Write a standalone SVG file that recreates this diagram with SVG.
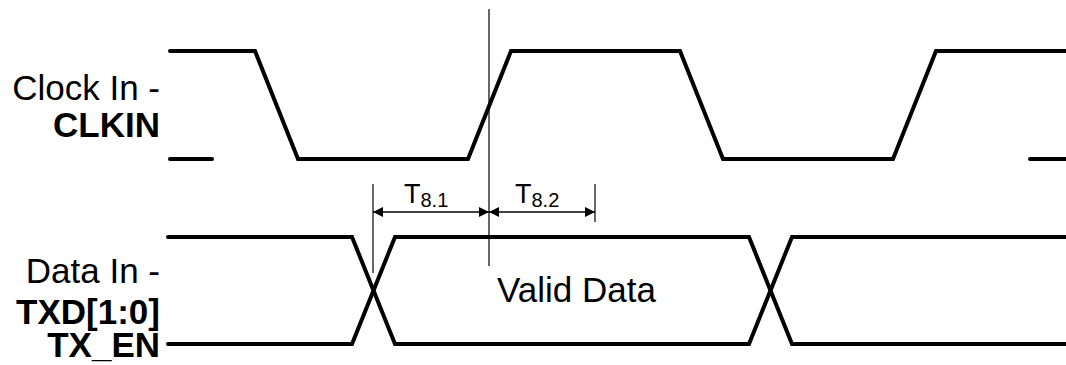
<svg xmlns="http://www.w3.org/2000/svg" width="1066" height="365" viewBox="0 0 1066 365">
<defs>
<style>
.wave{fill:none;stroke:#000;stroke-width:4;stroke-linejoin:miter;stroke-linecap:round}
.thin{fill:none;stroke:#000;stroke-width:1.2}
.dim{fill:none;stroke:#000;stroke-width:1.5}
.lbl{font-family:"Liberation Sans",Arial,sans-serif;font-size:35px;fill:#000}
.b{font-weight:bold}
.t{font-family:"Liberation Sans",Arial,sans-serif;font-size:27px;fill:#000}
.s{font-size:20px}
</style>
<marker id="ah" viewBox="0 0 10 10" refX="10" refY="5" markerWidth="11" markerHeight="10" markerUnits="userSpaceOnUse" orient="auto-start-reverse">
<path d="M0,0 L10,5 L0,10 Z" fill="#000"/>
</marker>
</defs>
<g id="clock-label">
<text class="lbl" x="160" y="100" text-anchor="end">Clock In -</text>
<text class="lbl b" x="160" y="137" text-anchor="end">CLKIN</text>
</g>
<g id="data-label">
<text class="lbl" x="160" y="283" text-anchor="end">Data In -</text>
<text class="lbl b" x="160" y="324" text-anchor="end">TXD[1:0]</text>
<text class="lbl b" x="160" y="357" text-anchor="end">TX_EN</text>
</g>
<g id="clock-wave">
<polyline class="wave" points="170,51 255,51 298,159 468,159 511,51 680,51 723,159 893,159 936,51 1066,51"/>
<line class="wave" x1="170" y1="159" x2="212" y2="159"/>
<line class="wave" x1="1030" y1="159" x2="1066" y2="159"/>
</g>
<g id="data-wave">
<polyline class="wave" points="168,237 352,237 395,344 749,344 792,237 1066,237"/>
<polyline class="wave" points="168,344 352,344 395,237 749,237 792,344 1066,344"/>
</g>
<g id="valid-data">
<text class="lbl" x="497" y="302">Valid Data</text>
</g>
<g id="connectors">
<line class="thin" x1="489" y1="9" x2="489" y2="266"/>
<line class="thin" x1="373" y1="184" x2="373" y2="273"/>
<line class="thin" x1="595" y1="184" x2="595" y2="222"/>
<line class="dim" x1="373" y1="212" x2="489" y2="212" marker-start="url(#ah)" marker-end="url(#ah)"/>
<line class="dim" x1="489" y1="212" x2="595" y2="212" marker-start="url(#ah)" marker-end="url(#ah)"/>
</g>
<g id="t81">
<text class="t" x="404" y="203">T<tspan class="s" dy="4">8.1</tspan></text>
</g>
<g id="t82">
<text class="t" x="515" y="203">T<tspan class="s" dy="4">8.2</tspan></text>
</g>
</svg>
